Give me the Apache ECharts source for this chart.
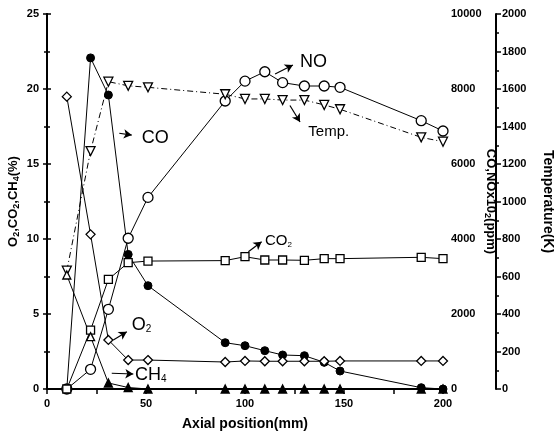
<!DOCTYPE html>
<html>
<head>
<meta charset="utf-8">
<script src="https://cdn.jsdelivr.net/npm/echarts@6/dist/echarts.min.js"></script>
<style>
  html, body { margin: 0; padding: 0; background: #fff; }
  #chart { width: 554px; height: 441px; }
</style>
</head>
<body>
<div id="chart"></div>
<script>
// axial positions (mm)
const positions = [10, 22, 31, 41, 51, 90, 100, 110, 119, 130, 140, 148, 189, 200];

// right axis: CO and NO x10 (ppm)
const coPpm = [0, 8830, 7840, 3590, 2755, 1235, 1155, 1022, 907, 888, 712, 480, 35, 0];
const noPpm = [0, 525, 2125, 4020, 5110, 7680, 8210, 8460, 8170, 8080, 8080, 8045, 7155, 6880];

// temperature (K)
const tempK = [631, 1269, 1639, 1617, 1609, 1572, 1547, 1547, 1541, 1541, 1515, 1492, 1342, 1319];

// left axis: O2, CO2, CH4 (%)
const co2Pct = [0, 3.93, 7.31, 8.42, 8.53, 8.56, 8.82, 8.6, 8.6, 8.58, 8.69, 8.69, 8.78, 8.69];
const o2Pct = [19.49, 10.31, 3.27, 1.93, 1.93, 1.8, 1.87, 1.85, 1.85, 1.85, 1.85, 1.87, 1.87, 1.87];
const ch4Pct = [7.6, 3.49, 0.4, 0.1, 0, 0, 0, 0, 0, 0, 0, 0, 0, 0];

// tick labels
const xTicks = [0, 50, 100, 150, 200];
const leftTicks = [0, 5, 10, 15, 20, 25];
const ppmTicks = [0, 2000, 4000, 6000, 8000, 10000];
const tempTicks = [0, 200, 400, 600, 800, 1000, 1200, 1400, 1600, 1800, 2000];

// annotation labels, placed in left-axis units [mm, %]
const noteText = ['NO', 'Temp.', 'CO', 'CO{s|2}', 'O{s|2}', 'CH{s|4}'];
const noteAt = [[127.8, 21.8], [132, 17.15], [47.8, 16.7], [110.1, 9.9], [42.8, 4.27], [44.4, 0.93]];
const noteSize = [18, 15, 18, 15, 18, 18];
const arrowFrom = [[115.2, 21.0], [122.7, 18.9], [36.5, 17.05], [101.7, 9.15], [33.5, 3.27], [32.7, 1.05]];
const arrowTo = [[124.2, 21.6], [127.8, 17.8], [42.8, 16.93], [108.4, 9.82], [40.3, 3.82], [43.6, 1.0]];

const FONT = 'Liberation Sans';
const pair = (vals) => positions.map((x, i) => [x, vals[i]]);

const axisLine = { show: true, lineStyle: { color: '#000', width: 2 } };
const tickStyle = { color: '#000', width: 1.5 };
const labelStyle = { color: '#000', fontSize: 11, fontFamily: FONT, fontWeight: 'bold' };
const nameStyle = {
  color: '#000', fontSize: 13, fontFamily: FONT, fontWeight: 'bold',
  rich: { s: { fontSize: 9, fontFamily: FONT, fontWeight: 'bold', verticalAlign: 'bottom', padding: [6, 0, 0, 0] } }
};

function lineSeries(name, data, yIndex, symbol, opts) {
  return Object.assign({
    name: name,
    type: 'line',
    data: data,
    yAxisIndex: yIndex,
    symbol: symbol,
    symbolSize: 9,
    showAllSymbol: true,
    lineStyle: { color: '#000', width: 1 },
    itemStyle: { color: '#fff', borderColor: '#000', borderWidth: 1.3 },
    emphasis: { disabled: true }
  }, opts || {});
}

const chart = echarts.init(document.getElementById('chart'));

chart.setOption({
  animation: false,
  backgroundColor: '#fff',
  grid: { left: 47, right: 111, top: 14, bottom: 52, containLabel: false, outerBoundsMode: 'none' },
  xAxis: [
    {
      type: 'value', position: 'bottom', min: 0, max: 200, interval: 50,
      name: 'Axial position(mm)', nameLocation: 'middle', nameGap: 28, nameMoveOverlap: false,
      nameTextStyle: Object.assign({}, nameStyle, { fontSize: 14 }),
      axisLine: axisLine,
      axisTick: { show: true, inside: false, length: 4, lineStyle: tickStyle },
      minorTick: { show: true, splitNumber: 2, length: 3, lineStyle: tickStyle },
      axisLabel: Object.assign({ margin: 9, formatter: (v) => xTicks.includes(v) ? String(v) : '' }, labelStyle),
      splitLine: { show: false }
    },
    {
      type: 'value', position: 'top', min: 0, max: 200, interval: 25,
      axisLine: axisLine,
      axisTick: { show: true, inside: true, length: 5, lineStyle: tickStyle },
      axisLabel: { show: false },
      splitLine: { show: false }
    }
  ],
  yAxis: [
    {
      type: 'value', position: 'left', min: 0, max: 25, interval: 5,
      name: 'O{s|2},CO{s|2},CH{s|4}(%)', nameLocation: 'middle', nameRotate: 90, nameGap: 26, nameMoveOverlap: false,
      nameTextStyle: nameStyle,
      axisLine: axisLine,
      axisTick: { show: true, inside: false, length: 4, lineStyle: tickStyle },
      minorTick: { show: true, splitNumber: 2, length: 3, lineStyle: tickStyle },
      axisLabel: Object.assign({ margin: 8, formatter: (v) => leftTicks.includes(v) ? String(v) : '' }, labelStyle),
      splitLine: { show: false }
    },
    {
      type: 'value', position: 'right', min: 0, max: 10000, interval: 2000,
      name: 'CO,NOx10{s|2}(ppm)', nameLocation: 'middle', nameRotate: -90, nameGap: 40, nameMoveOverlap: false,
      nameTextStyle: nameStyle,
      axisLine: axisLine,
      axisTick: { show: true, inside: false, length: 4, lineStyle: tickStyle },
      minorTick: { show: true, splitNumber: 2, length: 3, lineStyle: tickStyle },
      axisLabel: Object.assign({ margin: 8, formatter: (v) => ppmTicks.includes(v) ? String(v) : '' }, labelStyle),
      splitLine: { show: false }
    },
    {
      type: 'value', position: 'right', offset: 53, min: 0, max: 2000, interval: 200,
      name: 'Temperature(K)', nameLocation: 'middle', nameRotate: -90, nameGap: 45, nameMoveOverlap: false,
      nameTextStyle: Object.assign({}, nameStyle, { fontSize: 14 }),
      axisLine: axisLine,
      axisTick: { show: true, inside: false, length: 5, lineStyle: tickStyle },
      minorTick: { show: true, splitNumber: 2, length: 3, lineStyle: tickStyle },
      axisLabel: Object.assign({ margin: 6, formatter: (v) => tempTicks.includes(v) ? String(v) : '' }, labelStyle),
      splitLine: { show: false }
    }
  ],
  series: [
    lineSeries('CO', pair(coPpm), 1, 'circle', {
      symbolSize: 8,
      itemStyle: { color: '#000', borderColor: '#000', borderWidth: 1 }
    }),
    lineSeries('NO', pair(noPpm), 1, 'circle', { symbolSize: 10 }),
    lineSeries('Temp.', pair(tempK), 2, 'triangle', {
      symbolRotate: 180,
      lineStyle: { color: '#000', width: 1, type: [6, 3, 1, 3] }
    }),
    lineSeries('CO2', pair(co2Pct), 0, 'rect', { symbolSize: 8 }),
    lineSeries('O2', pair(o2Pct), 0, 'diamond', { symbolSize: 9 }),
    lineSeries('CH4', positions.map((x, i) => ({
      value: [x, ch4Pct[i]],
      itemStyle: ch4Pct[i] > 1 ? { color: '#fff' } : { color: '#000' }
    })), 0, 'triangle', {
      symbolSize: 8,
      itemStyle: { color: '#000', borderColor: '#000', borderWidth: 1.3 }
    }),
    {
      name: 'notes',
      type: 'scatter',
      yAxisIndex: 0,
      symbolSize: 0,
      silent: true,
      z: 5,
      itemStyle: { opacity: 1 },
      data: noteText.map((t, i) => ({
        value: noteAt[i],
        label: {
          show: true, position: 'right', distance: 0, formatter: t,
          color: '#000', opacity: 1, fontFamily: FONT, fontSize: noteSize[i],
          rich: { s: { color: '#000', fontSize: Math.round(noteSize[i] * 0.55), fontFamily: FONT, verticalAlign: 'bottom', padding: [8, 0, 0, 0] } }
        }
      })),
      markLine: {
        silent: true,
        animation: false,
        symbol: ['none', 'arrow'],
        symbolSize: [7, 8],
        label: { show: false },
        lineStyle: { color: '#000', width: 1.2, type: 'solid', opacity: 1 },
        data: arrowFrom.map((p, i) => [{ coord: p }, { coord: arrowTo[i] }])
      }
    }
  ]
});

window.addEventListener('resize', () => chart.resize());
</script>
</body>
</html>
